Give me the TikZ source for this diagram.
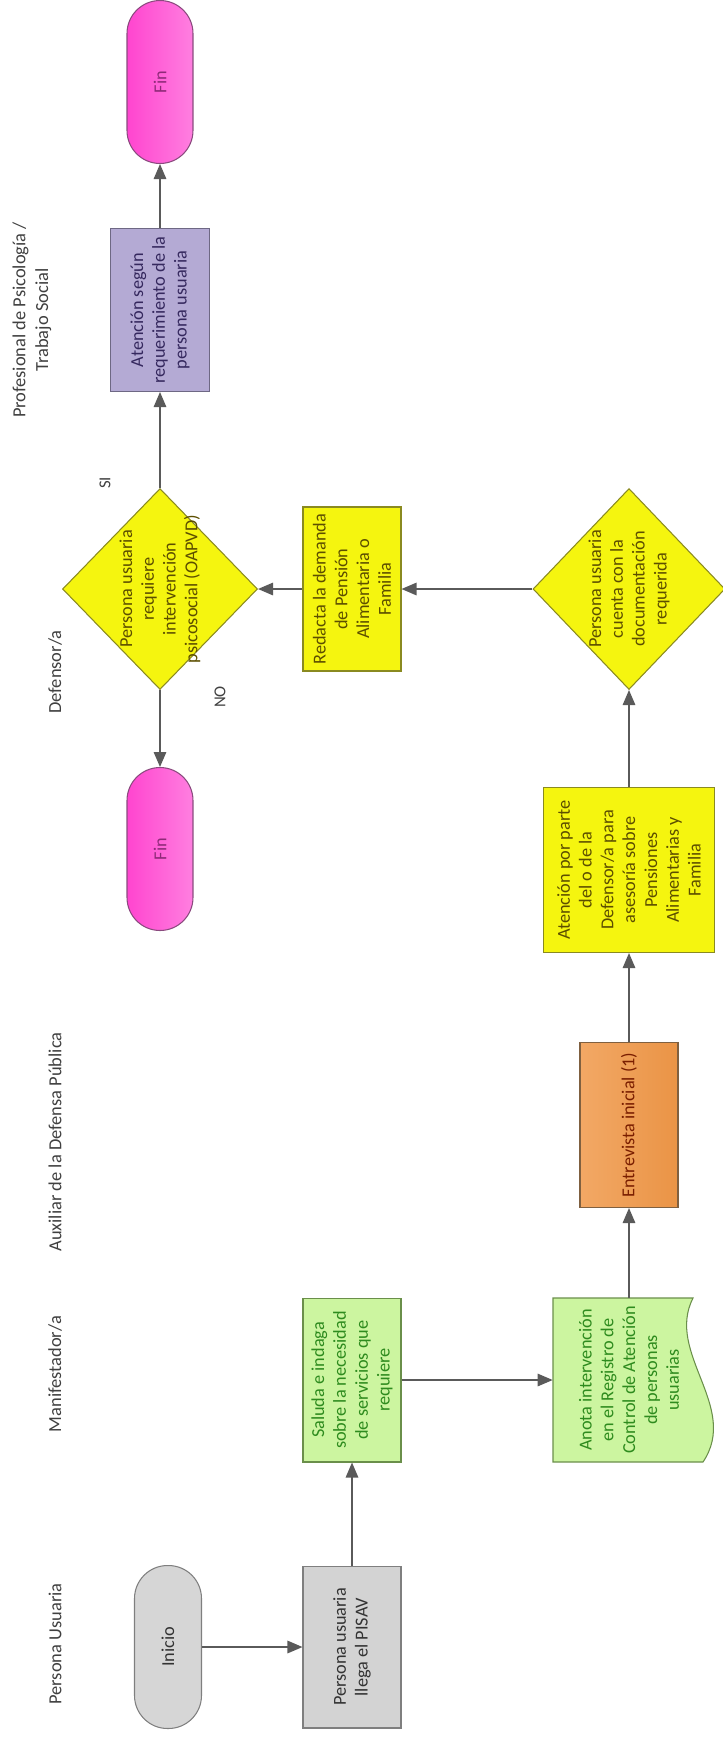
\documentclass[tikz,border=0pt]{standalone}
\usepackage{fontspec}
\setmainfont{Carlito}
\usetikzlibrary{shapes.geometric,arrows.meta}

\definecolor{laneText}{HTML}{404040}
\definecolor{arrowGray}{HTML}{5A5A5A}
\definecolor{inicioFill}{HTML}{D6D6D6}
\definecolor{inicioMid}{HTML}{E3E3E3}
\definecolor{boxGray}{HTML}{D3D3D3}
\definecolor{grayLine}{HTML}{7F7F7F}
\definecolor{grayText}{HTML}{333333}
\definecolor{greenFill}{HTML}{CCF5A0}
\definecolor{greenLine}{HTML}{6A8F4A}
\definecolor{greenText}{HTML}{2E8B1E}
\definecolor{yellowFill}{HTML}{F5F50F}
\definecolor{yellowLine}{HTML}{8A8A20}
\definecolor{yellowText}{HTML}{5C4E00}
\definecolor{orangeA}{HTML}{F2A865}
\definecolor{orangeB}{HTML}{EA9446}
\definecolor{orangeLine}{HTML}{7F6040}
\definecolor{orangeText}{HTML}{7A1E00}
\definecolor{pinkA}{HTML}{FF45CF}
\definecolor{pinkB}{HTML}{FF7FE0}
\definecolor{pinkLine}{HTML}{8A4A7E}
\definecolor{pinkText}{HTML}{8E2A78}
\definecolor{lilacFill}{HTML}{B4AAD4}
\definecolor{lilacLine}{HTML}{6E6884}
\definecolor{lilacText}{HTML}{35285E}

\begin{document}
\begin{tikzpicture}[x=0.02cm,y=-0.02cm,
  every node/.style={rotate=90, align=center, inner sep=1pt},
  boxfont/.style={font=\fontsize{10.4}{12.4}\selectfont},
  base/.style={boxfont, draw, line width=0.6pt},
  term/.style={base, rectangle, rounded corners=0.66cm,
               minimum width=3.26cm, minimum height=1.32cm},
  proc/.style={base, rectangle, minimum width=3.28cm, minimum height=1.96cm},
  decision/.style={base, diamond, inner sep=0pt,
                   minimum width=4.02cm, minimum height=3.9cm},
  grayterm/.style={left color=inicioFill, middle color=inicioMid, right color=inicioFill,
                   draw=grayLine, text=grayText},
  graybox/.style={fill=boxGray, draw=grayLine, text=grayText},
  greenbox/.style={fill=greenFill, draw=greenLine, text=greenText},
  yellowbox/.style={fill=yellowFill, draw=yellowLine, text=yellowText},
  orangebox/.style={left color=orangeA, right color=orangeB, draw=orangeLine, text=orangeText},
  pinkterm/.style={left color=pinkA, right color=pinkB, draw=pinkLine, text=pinkText},
  lilacbox/.style={fill=lilacFill, draw=lilacLine, text=lilacText},
  dtext/.style={boxfont, text=yellowText, inner sep=0pt},
  lane/.style={font=\fontsize{10.5}{13}\selectfont, text=laneText},
  answer/.style={font=\fontsize{9.5}{11}\selectfont, text=laneText},
  arr/.style={draw=arrowGray, line width=0.8pt,
              -{Triangle[length=0.3cm,width=0.25cm]}}]

\useasboundingbox (0,0) rectangle (723,1738);

% swimlane titles
\node[lane] (lanePU) at (55,1644) {Persona Usuaria};
\node[lane] (laneMan) at (55,1374) {Manifestador/a};
\node[lane] (laneAux) at (55,1142) {Auxiliar de la Defensa Pública};
\node[lane] (laneDef) at (55,672) {Defensor/a};
\node[lane] (lanePro) at (32,320) {Profesional de Psicología /\\Trabajo Social};

% persona usuaria
\node[term, grayterm, minimum height=1.34cm] (inicio) at (168,1647) {Inicio};
\node[proc, graybox, minimum width=3.24cm] (llega) at (352,1647) {Persona usuaria\\llega el PISAV};

% manifestador/a
\node[proc, greenbox] (saluda) at (352,1380)
  {Saluda e indaga\\sobre la necesidad\\de servicios que\\requiere};
\path[fill=greenFill, draw=greenLine, line width=0.6pt]
  (553,1298) -- (693,1298)
  .. controls (665,1353) and (740,1407) .. (703,1462)
  -- (553,1462) -- cycle;
\node[boxfont, text=greenText, inner sep=0pt, minimum width=3.28cm, minimum height=3.04cm]
  (anota) at (629,1380)
  {Anota intervención\\en el Registro de\\Control de Atención\\de personas\\usuarias};

% auxiliar
\node[proc, orangebox, minimum width=3.3cm] (entrevista) at (629,1125) {Entrevista inicial (1)};

% defensor/a
\node[proc, yellowbox, minimum width=3.3cm, minimum height=3.42cm] (atencion) at (629,870)
  {Atención por parte\\del o de la\\Defensor/a para\\asesoría sobre\\Pensiones\\Alimentarias y\\Familia};
\node[decision, yellowbox, minimum height=3.84cm] (docu) at (629,589) {};
\node[dtext] (docuText) at (docu) {Persona usuaria\\cuenta con la\\documentación\\requerida};
\node[proc, yellowbox] (redacta) at (352,589)
  {Redacta la demanda\\de Pensión\\Alimentaria o\\Familia};
\node[decision, yellowbox] (psico) at (160,589) {};
\node[dtext] (psicoText) at (psico) {Persona usuaria\\requiere\\intervención\\psicosocial (OAPVD)};
\node[term, pinkterm] (finNo) at (160,849) {Fin};
\node[answer] (si) at (105,483) {SI};
\node[answer] (no) at (220,697) {NO};

% profesional
\node[proc, lilacbox, minimum width=3.26cm, minimum height=1.98cm] (segun) at (160,310)
  {Atención según\\requerimiento de la\\persona usuaria};
\node[term, pinkterm] (finSi) at (160,82) {Fin};

% flow
\draw[arr] (inicio) -- (llega);
\draw[arr] (llega) -- (saluda);
\draw[arr] (saluda) -- (anota);
\draw[arr] (anota) -- (entrevista);
\draw[arr] (entrevista) -- (atencion);
\draw[arr] (atencion) -- (docu);
\draw[arr] (docu) -- (redacta);
\draw[arr] (redacta) -- (psico);
\draw[arr] (psico) -- (segun);
\draw[arr] (psico) -- (finNo);
\draw[arr] (segun) -- (finSi);
\end{tikzpicture}
\end{document}
